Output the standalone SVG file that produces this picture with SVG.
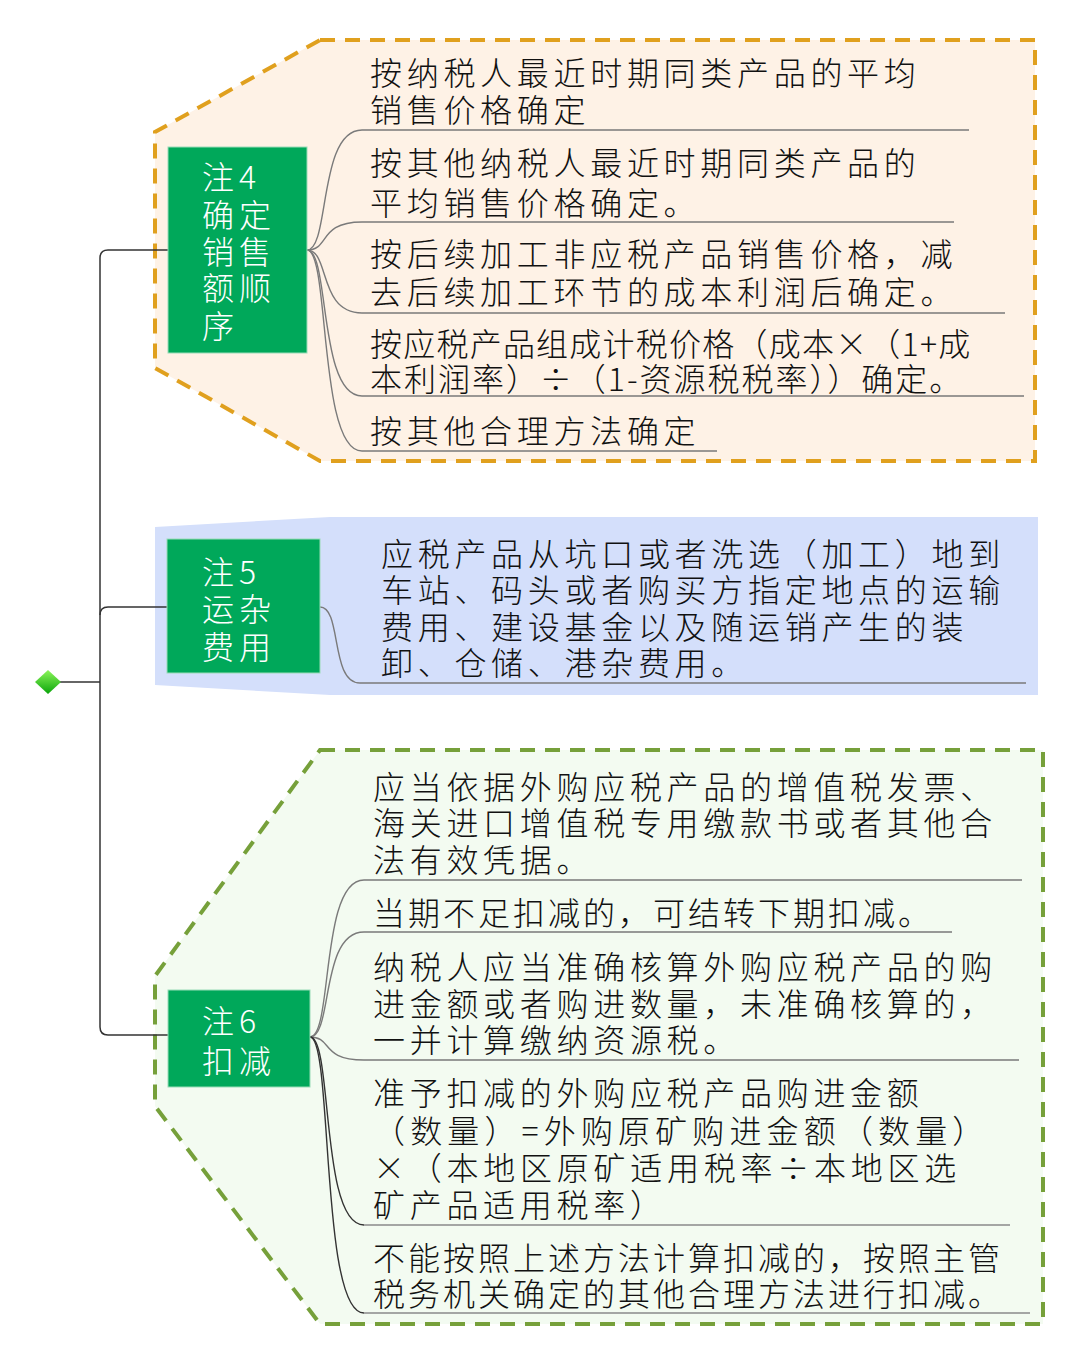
<svg xmlns="http://www.w3.org/2000/svg" width="1080" height="1363" viewBox="0 0 1080 1363">
<style>
.t{font-family:"Noto Sans CJK SC","Noto Sans CJK JP",sans-serif;font-size:32px;font-weight:300;letter-spacing:4.7px;fill:#111111}
.t2{letter-spacing:3px}
.n{font-family:"Noto Sans CJK SC","Noto Sans CJK JP",sans-serif;font-size:32px;font-weight:300;letter-spacing:5px;fill:#ffffff}
.box{fill:#00a85a;stroke:#9adcb8;stroke-width:1}
.br{fill:none;stroke:#7a7a7a;stroke-width:1.4}
.brd{fill:none;stroke:#333;stroke-width:1.4}
.ul{fill:none;stroke:#8a8a8a;stroke-width:1.4}
.tr{fill:none;stroke:#333;stroke-width:1.5}
</style>
<defs>
<linearGradient id="dg" x1="0" y1="0" x2="0" y2="1">
<stop offset="0" stop-color="#8cf55a"/>
<stop offset="1" stop-color="#0aa50a"/>
</linearGradient>
</defs>
<rect width="1080" height="1363" fill="#ffffff"/>
<g id="regions">
<path d="M320,40 L1035,40 L1035,461 L320,461 L155,368 L155,132 Z" fill="#fef2e6" stroke="#e0a01e" stroke-width="4" stroke-dasharray="15 10"/>
<path d="M155,527 L330,517 L1038,517 L1038,695 L330,695 L155,685 Z" fill="#d4dffb"/>
<path d="M320,750 L1043,750 L1043,1324 L320,1324 L155,1106 L155,976 Z" fill="#f3fbf1" stroke="#76a03a" stroke-width="4" stroke-dasharray="15 10"/>
</g>
<g id="connectors">
<path class="tr" d="M168,250 H108 Q100,250 100,258 V1027 Q100,1035 108,1035 H168"/>
<path class="tr" d="M168,607 H108 Q100,607 100,615"/>
<path class="tr" d="M58,682 H100"/>
<path class="br" d="M307,250 C330,250 318,130 362,130 H969"/>
<path class="br" d="M307,250 C330,250 318,222 362,222 H954"/>
<path class="br" d="M307,250 C330,250 318,313 362,313 H1005"/>
<path class="br" d="M307,250 C330,250 318,396 362,396 H1024"/>
<path class="br" d="M307,250 C330,250 318,451 362,451 H717"/>
<path class="br" d="M320,607 C342,607 330,683 360,683 H1026"/>
<path class="br" d="M310,1037 C333,1037 320,880 364,880 H1022"/>
<path class="br" d="M310,1037 C333,1037 320,932 364,932 H952"/>
<path class="br" d="M310,1037 C333,1037 320,1060 364,1060 H1019"/>
<path class="brd" d="M310,1037 C333,1037 320,1225 364,1225"/>
<path class="ul" d="M364,1225 H1010"/>
<path class="brd" d="M310,1037 C333,1037 320,1313 364,1313"/>
<path class="ul" d="M364,1313 H1030"/>
</g>
<g id="root">
<polygon points="48,670 61,682 48,694 35,682" fill="url(#dg)"/>
</g>
<g id="note4">
<rect class="box" x="168" y="147" width="139" height="206"/>
<text class="n" x="202" y="189">注4</text>
<text class="n" x="202" y="227">确定</text>
<text class="n" x="202" y="264">销售</text>
<text class="n" x="202" y="300">额顺</text>
<text class="n" x="202" y="338">序</text>
</g>
<g id="note4-items">
<text class="t" x="370" y="85">按纳税人最近时期同类产品的平均</text>
<text class="t" x="370" y="122">销售价格确定</text>
<text class="t" x="370" y="175">按其他纳税人最近时期同类产品的</text>
<text class="t" x="370" y="215">平均销售价格确定。</text>
<text class="t" x="370" y="266">按后续加工非应税产品销售价格，减</text>
<text class="t" x="370" y="304">去后续加工环节的成本利润后确定。</text>
<text class="t" x="370" y="356" textLength="605" lengthAdjust="spacing">按应税产品组成计税价格（成本×（1+成</text>
<text class="t" x="370" y="391" textLength="596" lengthAdjust="spacing">本利润率）÷（1-资源税税率））确定。</text>
<text class="t" x="370" y="443">按其他合理方法确定</text>
</g>
<g id="note5">
<rect class="box" x="167" y="539" width="153" height="134"/>
<text class="n" x="202" y="584">注5</text>
<text class="n" x="202" y="621">运杂</text>
<text class="n" x="202" y="659">费用</text>
</g>
<g id="note5-item">
<text class="t" x="381" y="566">应税产品从坑口或者洗选（加工）地到</text>
<text class="t" x="381" y="602">车站、码头或者购买方指定地点的运输</text>
<text class="t" x="381" y="639">费用、建设基金以及随运销产生的装</text>
<text class="t" x="381" y="675">卸、仓储、港杂费用。</text>
</g>
<g id="note6">
<rect class="box" x="168" y="990" width="142" height="97"/>
<text class="n" x="202" y="1033">注6</text>
<text class="n" x="202" y="1073">扣减</text>
</g>
<g id="note6-items">
<text class="t" x="373" y="799">应当依据外购应税产品的增值税发票、</text>
<text class="t" x="373" y="835">海关进口增值税专用缴款书或者其他合</text>
<text class="t" x="373" y="872">法有效凭据。</text>
<text class="t t2" x="373" y="925">当期不足扣减的，可结转下期扣减。</text>
<text class="t" x="373" y="979">纳税人应当准确核算外购应税产品的购</text>
<text class="t" x="373" y="1016">进金额或者购进数量，未准确核算的，</text>
<text class="t" x="373" y="1052">一并计算缴纳资源税。</text>
<text class="t" x="373" y="1105">准予扣减的外购应税产品购进金额</text>
<text class="t" x="373" y="1143" textLength="616" lengthAdjust="spacing">（数量）=外购原矿购进金额（数量）</text>
<text class="t" x="373" y="1180" textLength="588" lengthAdjust="spacing">×（本地区原矿适用税率÷本地区选</text>
<text class="t" x="373" y="1217">矿产品适用税率）</text>
<text class="t t2" x="373" y="1270">不能按照上述方法计算扣减的，按照主管</text>
<text class="t t2" x="373" y="1306">税务机关确定的其他合理方法进行扣减。</text>
</g>
</svg>
